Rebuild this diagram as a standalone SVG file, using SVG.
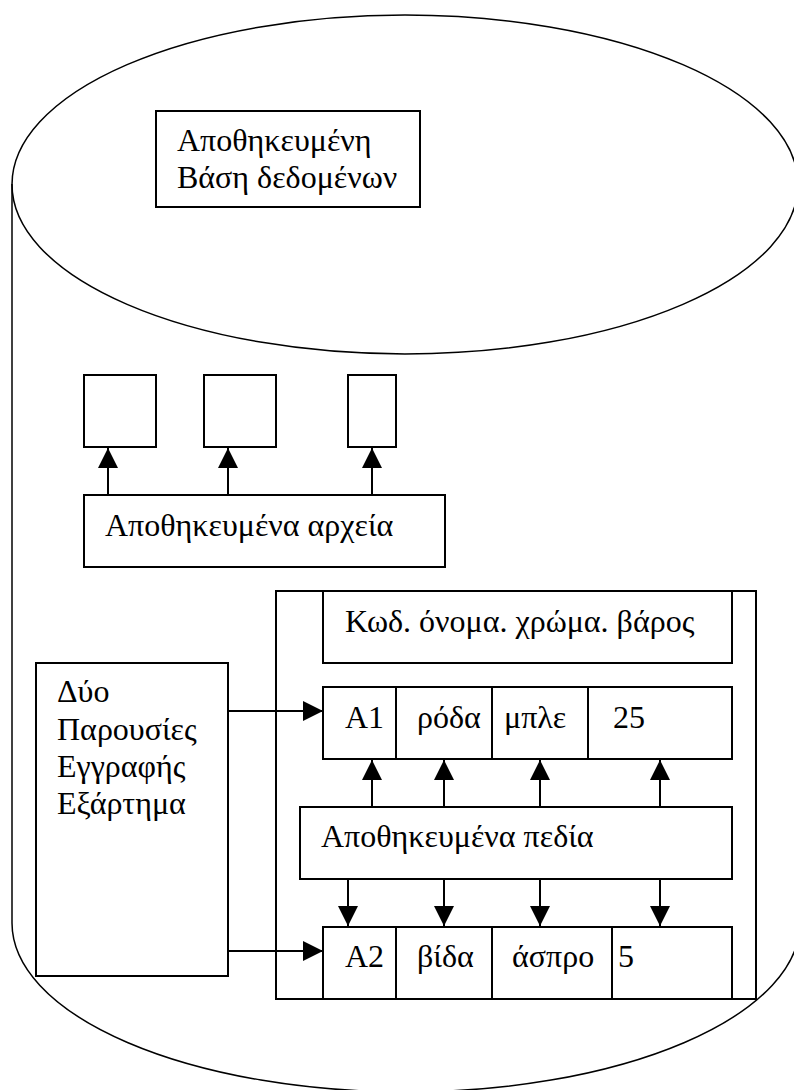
<svg xmlns="http://www.w3.org/2000/svg" width="794" height="1090" viewBox="0 0 794 1090">
<style>
  .box { fill: #fff; stroke: #000; stroke-width: 2; }
  .shape { fill: none; stroke: #000; stroke-width: 1.5; }
  .t { font-family: "Liberation Serif", "Times New Roman", serif; font-size: 32px; fill: #000; }
  .c { stroke: #000; stroke-width: 2; fill: none; }
</style>
<defs>
  <marker id="arr" markerUnits="userSpaceOnUse" markerWidth="20" markerHeight="20" refX="20" refY="10" orient="auto" viewBox="0 0 20 20">
    <path d="M0,0 L20,10 L0,20 Z" fill="#000"/>
  </marker>
</defs>
<rect width="794" height="1090" fill="#fff"/>
<g id="cylinder">
  <ellipse class="shape" cx="405" cy="184.5" rx="393" ry="169.5"/>
  <line class="shape" x1="12" y1="184" x2="12" y2="923"/>
  <path class="shape" d="M12,923 A394,169 0 0 0 800,923"/>
</g>
<g id="db-label">
  <rect class="box" x="156" y="111" width="264" height="96"/>
  <text class="t" x="177" y="151">Αποθηκευμένη</text>
  <text class="t" x="177" y="188">Βάση δεδομένων</text>
</g>
<g id="file1"><rect class="box" x="84" y="375" width="72" height="72"/></g>
<g id="file2"><rect class="box" x="204" y="375" width="72" height="72"/></g>
<g id="file3"><rect class="box" x="348" y="375" width="48" height="72"/></g>
<g id="stored-files">
  <rect class="box" x="84" y="495" width="361" height="72"/>
  <text class="t" x="105" y="536">Αποθηκευμένα αρχεία</text>
</g>
<g id="record-frame">
  <rect class="box" x="276" y="591" width="480" height="408"/>
</g>
<g id="header">
  <rect class="box" x="323" y="591" width="409" height="72"/>
  <text class="t" x="345" y="632">Κωδ. όνομα. χρώμα. βάρος</text>
</g>
<g id="record-a1">
  <rect class="box" x="323" y="687" width="409" height="72"/>
  <line class="c" x1="396" y1="687" x2="396" y2="759"/>
  <line class="c" x1="492" y1="687" x2="492" y2="759"/>
  <line class="c" x1="588" y1="687" x2="588" y2="759"/>
  <text class="t" x="345" y="728">A1</text>
  <text class="t" x="417" y="728">ρόδα</text>
  <text class="t" x="504" y="728">μπλε</text>
  <text class="t" x="613" y="728">25</text>
</g>
<g id="stored-fields">
  <rect class="box" x="300" y="807" width="432" height="72"/>
  <text class="t" x="321" y="847">Αποθηκευμένα πεδία</text>
</g>
<g id="record-a2">
  <rect class="box" x="323" y="927" width="409" height="72"/>
  <line class="c" x1="396" y1="927" x2="396" y2="999"/>
  <line class="c" x1="492" y1="927" x2="492" y2="999"/>
  <line class="c" x1="612" y1="927" x2="612" y2="999"/>
  <text class="t" x="345" y="967">A2</text>
  <text class="t" x="417" y="967">βίδα</text>
  <text class="t" x="512" y="967">άσπρο</text>
  <text class="t" x="618" y="967">5</text>
</g>
<g id="occurrences">
  <rect class="box" x="36" y="663" width="192" height="313"/>
  <text class="t" x="57" y="702">Δύο</text>
  <text class="t" x="57" y="740">Παρουσίες</text>
  <text class="t" x="57" y="777">Εγγραφής</text>
  <text class="t" x="57" y="814">Εξάρτημα</text>
</g>
<g id="connectors">
  <line class="c" x1="108" y1="495" x2="108" y2="448" marker-end="url(#arr)"/>
  <line class="c" x1="228" y1="495" x2="228" y2="448" marker-end="url(#arr)"/>
  <line class="c" x1="372" y1="495" x2="372" y2="448" marker-end="url(#arr)"/>
  <line class="c" x1="228" y1="711" x2="323" y2="711" marker-end="url(#arr)"/>
  <line class="c" x1="228" y1="951" x2="323" y2="951" marker-end="url(#arr)"/>
  <line class="c" x1="372" y1="807" x2="372" y2="760" marker-end="url(#arr)"/>
  <line class="c" x1="444" y1="807" x2="444" y2="760" marker-end="url(#arr)"/>
  <line class="c" x1="540" y1="807" x2="540" y2="760" marker-end="url(#arr)"/>
  <line class="c" x1="660" y1="807" x2="660" y2="760" marker-end="url(#arr)"/>
  <line class="c" x1="348" y1="879" x2="348" y2="926" marker-end="url(#arr)"/>
  <line class="c" x1="444" y1="879" x2="444" y2="926" marker-end="url(#arr)"/>
  <line class="c" x1="540" y1="879" x2="540" y2="926" marker-end="url(#arr)"/>
  <line class="c" x1="660" y1="879" x2="660" y2="926" marker-end="url(#arr)"/>
</g>
</svg>
